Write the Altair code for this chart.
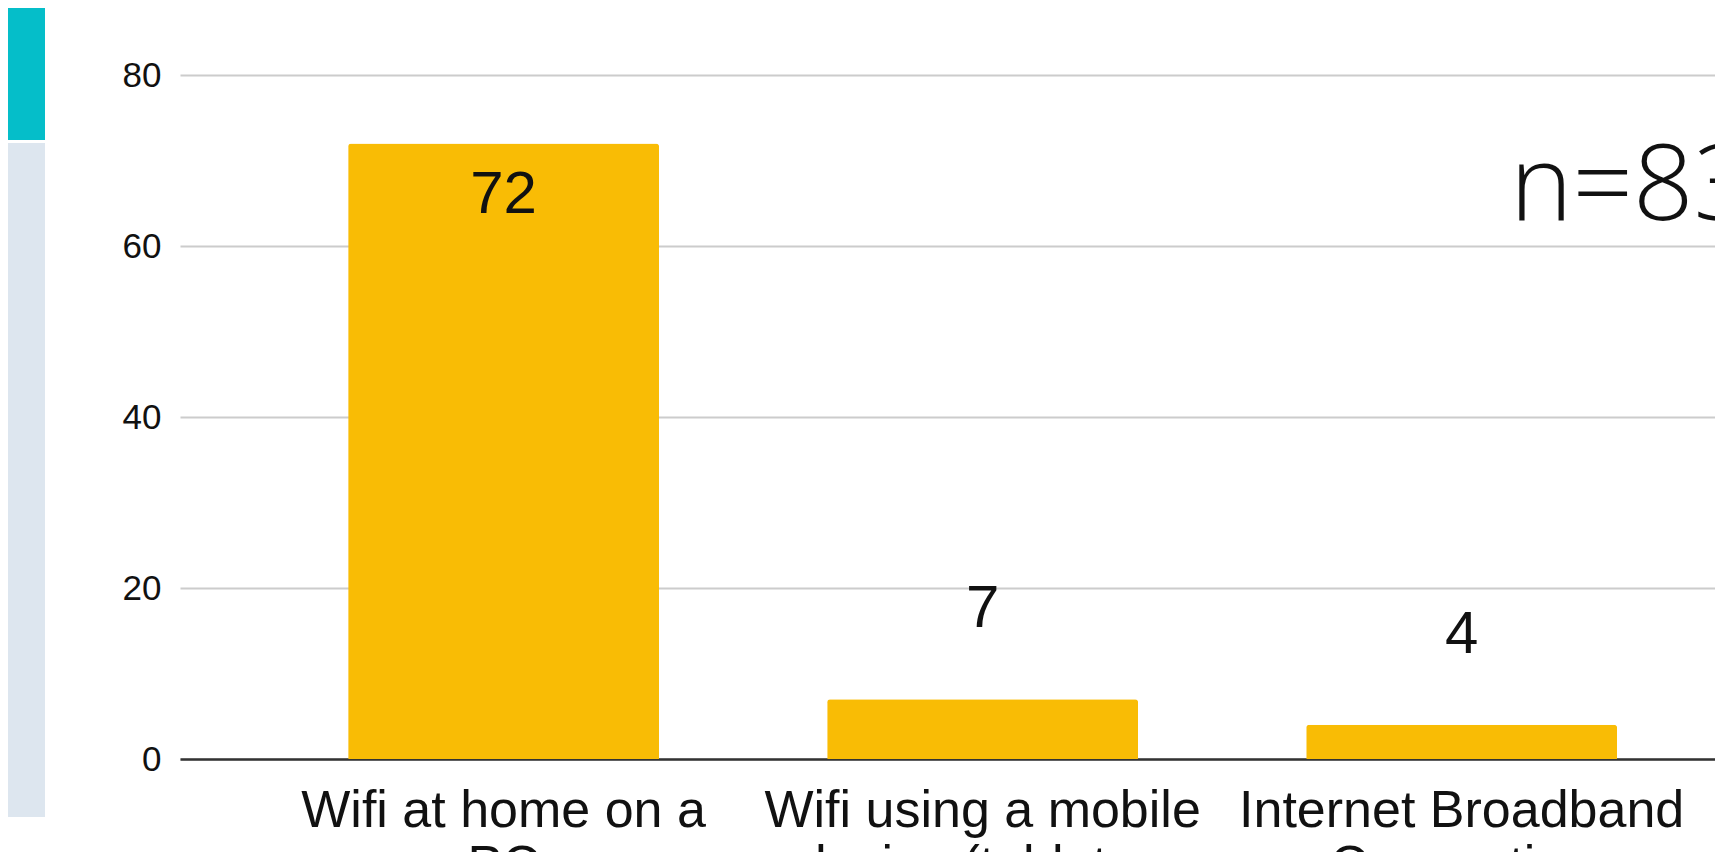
import altair as alt
import pandas as pd

# ---- data ----
categories = [
    "Wifi at home on a|PC",
    "Wifi using a mobile|device (tablet or|phone)",
    "Internet Broadband|Connection",
]
values = [72, 7, 4]
y_ticks = [0, 20, 40, 60, 80]
note_text = ["n=83"]

df = pd.DataFrame({"cat": categories, "v": values})

x_enc = alt.X(
    "cat:N",
    sort=categories,
    scale=alt.Scale(paddingInner=0.351, paddingOuter=0.2777, align=0.632),
    axis=alt.Axis(title=None, labelExpr="split(datum.label, '|')"),
)
y_enc = alt.Y(
    "v:Q",
    scale=alt.Scale(domain=[0, 80], nice=False),
    axis=alt.Axis(title=None, values=y_ticks),
)

base = alt.Chart(df).encode(x=x_enc, y=y_enc)

bars = base.mark_bar(color="#F9BC05", cornerRadiusTopLeft=3, cornerRadiusTopRight=3)

lab_in = base.transform_filter("datum.v >= 20").mark_text(
    font="Liberation Sans", fontSize=60, color="#111111", baseline="alphabetic", dy=70
).encode(text="v:Q")

lab_out = base.transform_filter("datum.v < 20").mark_text(
    font="Liberation Sans", fontSize=60, color="#111111", baseline="alphabetic", dy=-72
).encode(text="v:Q")

# slide decorations (left side strips) and annotation
deco = pd.DataFrame({"k": [1]})
teal = alt.Chart(deco).mark_rect(color="#05BEC9").encode(
    x=alt.value(-172), x2=alt.value(-135), y=alt.value(-67), y2=alt.value(65)
)
light = alt.Chart(deco).mark_rect(color="#DDE6EF").encode(
    x=alt.value(-172), x2=alt.value(-135), y=alt.value(68), y2=alt.value(742)
)
note = alt.Chart(pd.DataFrame({"t": note_text})).mark_text(
    font="Open Sans", fontSize=106, fontWeight=300, color="#111", align="left", baseline="alphabetic"
).encode(text="t:N", x=alt.value(1330), y=alt.value(145))

chart = (
    alt.layer(teal, light, bars, lab_in, lab_out, note)
    .properties(
        width=1535,
        height=684,
        autosize=alt.AutoSizeParams(type="none"),
        padding={"left": 172, "top": 67, "right": 0, "bottom": 93},
    )
    .configure_view(stroke=None)
    .configure_axisX(
        domainColor="#333333",
        domainWidth=2.5,
        ticks=False,
        grid=False,
        labelFont="Liberation Sans",
        labelFontSize=52,
        labelColor="#111111",
        labelLimit=2000,
        labelPadding=26,
        labelLineHeight=55,
        labelAngle=0,
        labelOverlap=False,
        labelBound=False,
    )
    .configure_axisY(
        domain=False,
        ticks=False,
        grid=True,
        gridColor="#CCCCCC",
        gridWidth=2,
        labelFont="Liberation Sans",
        labelFontSize=35,
        labelColor="#111111",
        labelPadding=19,
    )
)

chart.save("out.html", embed_options={"renderer": "svg", "actions": False})
